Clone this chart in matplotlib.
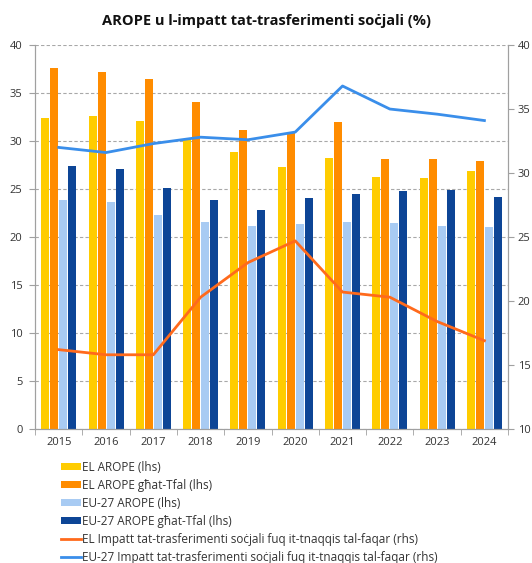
import matplotlib
matplotlib.use('Agg')
import matplotlib.pyplot as plt
import numpy as np
from matplotlib.patches import Patch
from matplotlib.lines import Line2D

plt.rcParams['font.family'] = ['Open Sans', 'DejaVu Sans']

years = ['2015', '2016', '2017', '2018', '2019', '2020', '2021', '2022', '2023', '2024']

# left axis bars (%)
el_arope = [32.4, 32.6, 32.1, 30.2, 28.9, 27.3, 28.2, 26.3, 26.1, 26.9]
el_arope_children = [37.6, 37.2, 36.5, 34.1, 31.2, 30.8, 32.0, 28.1, 28.1, 27.9]
eu_arope = [23.9, 23.6, 22.3, 21.6, 21.1, 21.4, 21.6, 21.5, 21.2, 21.0]
eu_arope_children = [27.4, 27.1, 25.1, 23.9, 22.8, 24.1, 24.5, 24.8, 24.9, 24.2]

# right axis lines (%)
el_impact = [16.2, 15.8, 15.8, 20.3, 23.0, 24.7, 20.7, 20.3, 18.4, 16.9]
eu_impact = [32.0, 31.6, 32.3, 32.8, 32.6, 33.2, 36.8, 35.0, 34.6, 34.1]

labels = ['EL AROPE (lhs)', 'EL AROPE għat-Tfal (lhs)', 'EU-27 AROPE (lhs)',
          'EU-27 AROPE għat-Tfal (lhs)',
          'EL Impatt tat-trasferimenti soċjali fuq it-tnaqqis tal-faqar (rhs)',
          'EU-27 Impatt tat-trasferimenti soċjali fuq it-tnaqqis tal-faqar (rhs)']

bar_colors = ['#FFCC00', '#FF8C00', '#A8CBF3', '#0D4596']
line_colors = ['#FF6A1C', '#3A8EEA']
txt = '#333333'
spine_c = '#A0A0A0'

fig = plt.figure(figsize=(5.32, 5.63), dpi=100)
ax = fig.add_axes([0.066, 0.238, 0.889, 0.682])
ax2 = ax.twinx()

x = np.arange(len(years))
offsets = [-0.285, -0.095, 0.095, 0.285]
series = [el_arope, el_arope_children, eu_arope, eu_arope_children]
for s, off, c in zip(series, offsets, bar_colors):
    ax.bar(x + off, s, width=0.17, color=c, zorder=2)

ax2.plot(x, el_impact, color=line_colors[0], lw=2, zorder=3)
ax2.plot(x, eu_impact, color=line_colors[1], lw=2, zorder=3)

ax.set_xlim(-0.5, len(years) - 0.5)
ax.set_ylim(0, 40)
ax.set_yticks(np.arange(0, 41, 5))
ax2.set_ylim(10, 40)
ax2.set_yticks(np.arange(10, 41, 5))

ax.set_xticks(x)
ax.set_xticklabels(years)
ax.set_xticks(np.arange(-0.5, len(years), 1), minor=True)
ax.tick_params(axis='x', which='major', length=0, pad=6, labelsize=8, labelcolor=txt)
ax.tick_params(axis='x', which='minor', length=4, color=spine_c)
ax.tick_params(axis='y', length=4, color=spine_c, labelsize=8, labelcolor=txt, pad=5)
ax2.tick_params(axis='y', length=4, color=spine_c, labelsize=8, labelcolor=txt, pad=3)

ax.yaxis.grid(True, linestyle=(0, (3, 2)), color='#A8A8A8', lw=0.8, zorder=0)
ax.set_axisbelow(True)

for a in (ax, ax2):
    a.spines['top'].set_visible(False)
    for side in ('left', 'right', 'bottom'):
        a.spines[side].set_color(spine_c)

fig.text(0.5, 0.963, 'AROPE u l-impatt tat-trasferimenti soċjali (%)',
         ha='center', va='center', fontsize=10.5, fontweight='bold', color='#111111')

handles = [Patch(facecolor=c, edgecolor='none') for c in bar_colors]
handles += [Line2D([0], [0], color=c, lw=2) for c in line_colors]
fig.legend(handles, labels, loc='upper left', bbox_to_anchor=(0.105, 0.19),
           frameon=False, fontsize=8.5, handlelength=1.7, handleheight=0.55,
           handletextpad=0.1, labelspacing=0.43, borderaxespad=0,
           labelcolor=txt)

fig.savefig('out.png', dpi=100)
